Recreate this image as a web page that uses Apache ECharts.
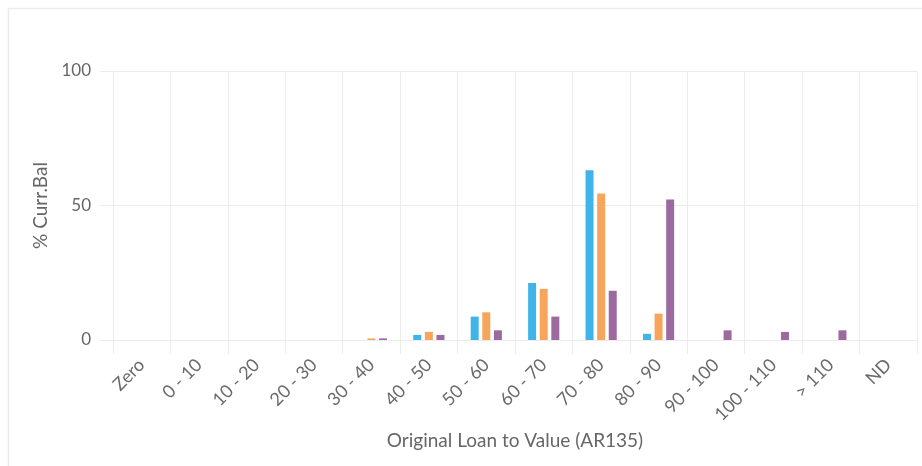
<!DOCTYPE html>
<html>
<head>
<meta charset="utf-8">
<script src="https://cdn.jsdelivr.net/npm/echarts@6/dist/echarts.min.js"></script>
<style>
html,body{margin:0;padding:0;background:#fff;}
#chart{width:922px;height:466px;}
</style>
</head>
<body>
<div id="chart"></div>
<script>
const categories = ['Zero','0 - 10','10 - 20','20 - 30','30 - 40','40 - 50','50 - 60','60 - 70','70 - 80','80 - 90','90 - 100','100 - 110','> 110','ND'];
const seriesA = [0, 0, 0, 0, 0, 1.9, 8.7, 21.2, 63.1, 2.3, 0, 0, 0, 0];
const seriesB = [0, 0, 0, 0, 0.6, 3.0, 10.3, 19.0, 54.5, 9.8, 0, 0, 0, 0];
const seriesC = [0, 0, 0, 0, 0.6, 1.9, 3.6, 8.7, 18.3, 52.2, 3.6, 3.0, 3.6, 0];
const yTicks = [0, 50, 100];
const colors = ['#40b4e8', '#f8a55c', '#9c6a9e'];

const chart = echarts.init(document.getElementById('chart'), null, {renderer:'canvas'});
const font = 'Lato, "Open Sans", sans-serif';
function mk(name, data, color){
  return {name:name, type:'bar', data:data, barWidth:8, barGap:'45%',
    itemStyle:{color:color}, emphasis:{disabled:true}};
}
chart.setOption({
  animation:false,
  textStyle:{fontFamily:font},
  graphic:[{type:'rect', shape:{x:8.5,y:8.5,width:930,height:480}, style:{fill:'none', stroke:'#ebebeb', lineWidth:1.5}, z:-1}],
  grid:{left:113, right:5, top:71, bottom:126},
  xAxis:{
    type:'category', data:categories,
    name:'Original Loan to Value (AR135)', nameLocation:'middle', nameGap:87,
    nameTextStyle:{fontSize:19, color:'#666', fontFamily:font},
    axisLine:{show:true, lineStyle:{color:'#ececec'}},
    axisTick:{show:true, length:14, lineStyle:{color:'#ececec'}},
    splitLine:{show:true, lineStyle:{color:'#ececec'}},
    axisLabel:{rotate:45, fontSize:18, color:'#6a6a6a', margin:22, fontFamily:font, interval:0}
  },
  yAxis:{
    type:'value', min:yTicks[0], max:yTicks[yTicks.length-1], interval:50,
    name:'% Curr.Bal', nameLocation:'middle', nameGap:63,
    nameTextStyle:{fontSize:19, color:'#666', fontFamily:font},
    axisLine:{show:false},
    axisTick:{show:true, length:13, lineStyle:{color:'#ececec'}},
    splitLine:{show:true, lineStyle:{color:'#ececec'}},
    axisLabel:{fontSize:17, color:'#666', margin:22, fontFamily:font}
  },
  series:[mk('A', seriesA, colors[0]), mk('B', seriesB, colors[1]), mk('C', seriesC, colors[2])]
});
</script>
</body>
</html>
